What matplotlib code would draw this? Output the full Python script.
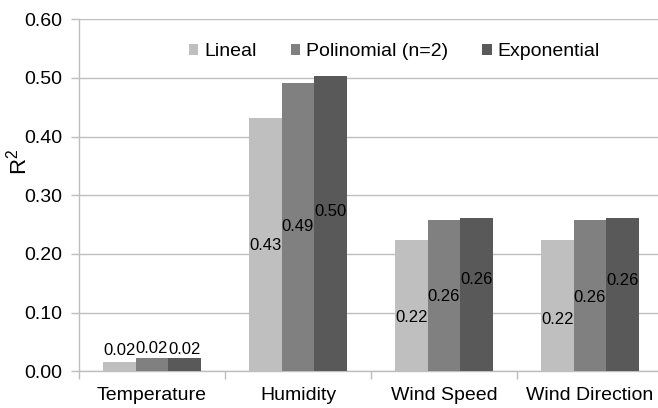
import numpy as np
import matplotlib.pyplot as plt
from matplotlib.ticker import FixedLocator

plt.rcParams['font.family'] = ['Liberation Sans', 'DejaVu Sans']

# data
categories = ['Temperature', 'Humidity', 'Wind Speed', 'Wind Direction']
series = ['Lineal', 'Polinomial (n=2)', 'Exponential']
lineal = [0.016, 0.431, 0.223, 0.223]
polinomial = [0.023, 0.492, 0.258, 0.258]
exponential = [0.023, 0.503, 0.262, 0.262]
labels_lineal = ['0.02', '0.43', '0.22', '0.22']
labels_polinomial = ['0.02', '0.49', '0.26', '0.26']
labels_exponential = ['0.02', '0.50', '0.26', '0.26']

# label heights (data units) as placed in the original chart
label_y_lineal = [0.035, 0.215, 0.092, 0.089]
label_y_polinomial = [0.039, 0.246, 0.127, 0.126]
label_y_exponential = [0.038, 0.272, 0.157, 0.154]

colors = ['#BFBFBF', '#808080', '#595959']
grid_color = '#BEBEBE'

fig = plt.figure(figsize=(6.58, 4.08), dpi=100)
ax = fig.add_axes([79 / 658, 1 - 371.3 / 408, 584 / 658, 352 / 408])

x = np.arange(len(categories))
w = 0.222
values = [lineal, polinomial, exponential]
texts = [labels_lineal, labels_polinomial, labels_exponential]
label_ys = [label_y_lineal, label_y_polinomial, label_y_exponential]

for i, (vals, name) in enumerate(zip(values, series)):
    xs = x + (i - 1) * w
    ax.bar(xs, vals, width=w, color=colors[i], label=name, zorder=3)
    for xx, t, yy in zip(xs, texts[i], label_ys[i]):
        ax.text(xx, yy, t, ha='center', va='center', fontsize=12, color='#000000', zorder=4)

ax.set_xlim(-0.5, 3.5)
ax.set_ylim(0, 0.6)
ax.set_yticks(np.arange(0, 0.61, 0.1))
ax.set_yticklabels([f'{v:.2f}' for v in np.arange(0, 0.61, 0.1)], fontsize=14)
ax.set_xticks(x)
ax.set_xticklabels(categories, fontsize=14)
ax.xaxis.set_minor_locator(FixedLocator([-0.5, 0.5, 1.5, 2.5, 3.5]))
ax.tick_params(axis='x', which='major', length=0, pad=11)
ax.tick_params(axis='x', which='minor', length=6, color=grid_color, width=1)
ax.tick_params(axis='y', length=6, color=grid_color, width=1, pad=6)

ax.grid(axis='y', color=grid_color, linewidth=1, zorder=0)
for s in ['top', 'right']:
    ax.spines[s].set_visible(False)
for s in ['left', 'bottom']:
    ax.spines[s].set_color(grid_color)
    ax.spines[s].set_linewidth(1)

ax.set_ylabel(r'$\mathregular{R^2}$', fontsize=16)
ax.yaxis.set_label_coords(-0.082, 0.595)

ax.legend(loc='center', bbox_to_anchor=(0.54, 0.908), ncol=3, frameon=False,
          fontsize=14, handlelength=0.5, handleheight=0.5, handletextpad=0.3,
          columnspacing=1.75, borderpad=0)

fig.savefig('out.png', dpi=100)
